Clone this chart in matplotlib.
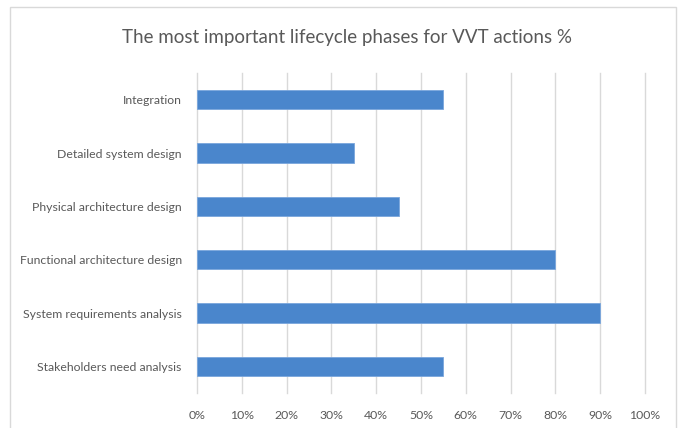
import matplotlib
matplotlib.use("Agg")
import matplotlib.pyplot as plt
from matplotlib.patches import Rectangle
from matplotlib.ticker import PercentFormatter

categories = ["Stakeholders need analysis", "System requirements analysis",
              "Functional architecture design", "Physical architecture design",
              "Detailed system design", "Integration"]
values = [55, 90, 80, 45, 35, 55]
xticks = [0, 10, 20, 30, 40, 50, 60, 70, 80, 90, 100]

plt.rcParams['font.family'] = ['Lato', 'DejaVu Sans']
text_color = '#595959'

fig = plt.figure(figsize=(6.78, 4.28), dpi=100)
fig.patch.set_facecolor('white')
fig.patches.append(Rectangle((10/678, -0.01), 666/678, 1 - 7/428 + 0.01,
                             transform=fig.transFigure, fill=False,
                             edgecolor='#d9d9d9', linewidth=1.0))

ax = fig.add_axes([197/678, 1 - 393/428, (645 - 197)/678, (393 - 73)/428])
ax.barh(categories, values, height=0.36, color='#4a86cc', edgecolor='#7aa6dc', linewidth=0.6, zorder=3)
ax.set_xlim(0, 100)
ax.set_ylim(-0.5, len(categories) - 0.5)
ax.set_xticks(xticks)
ax.xaxis.set_major_formatter(PercentFormatter(decimals=0))
ax.grid(axis='x', color='#d9d9d9', linewidth=1.0, zorder=0)
for gl in ax.get_xgridlines():
    gl.set_clip_on(False)
for s in ax.spines.values():
    s.set_visible(False)
ax.tick_params(axis='both', length=0, colors=text_color, labelsize=8.8)
ax.tick_params(axis='x', pad=12)
ax.tick_params(axis='y', pad=11)
for lbl in ax.get_xticklabels() + ax.get_yticklabels():
    lbl.set_color(text_color)

fig.text(347/678, 1 - 38/428, "The most important lifecycle phases for VVT actions %",
         ha='center', va='center', fontsize=13.5, color=text_color)

fig.savefig("out.png", dpi=100)
